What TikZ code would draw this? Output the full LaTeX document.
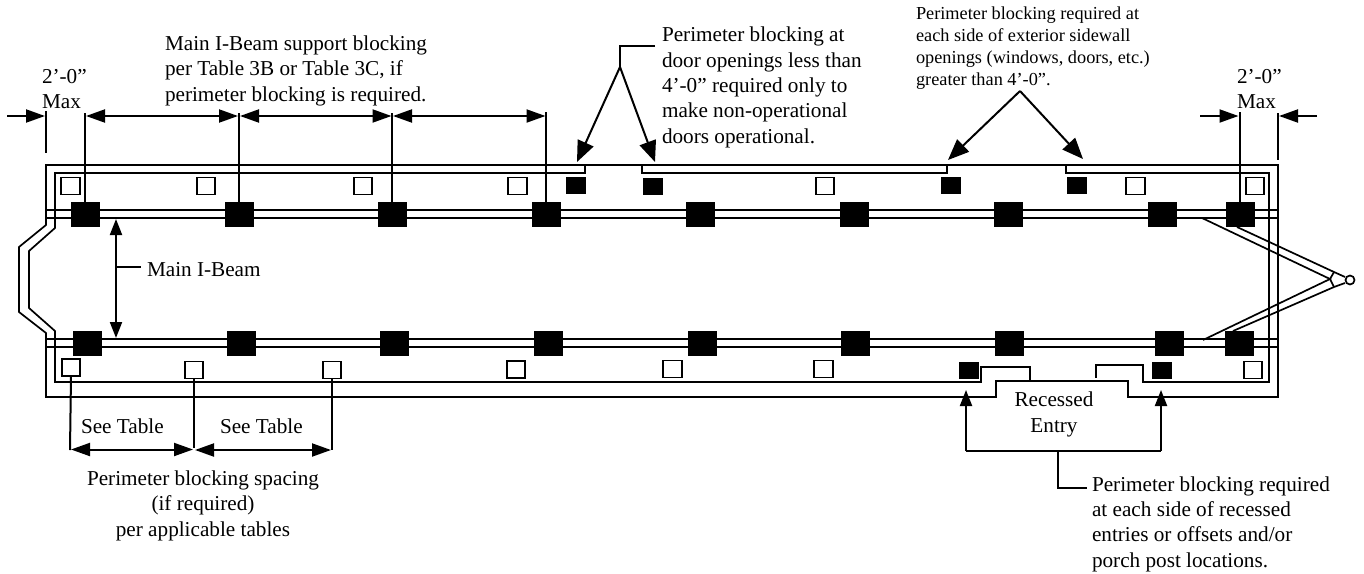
\documentclass[tikz,border=0pt]{standalone}
\usepackage{fontspec}
\setmainfont{Liberation Serif}
\usetikzlibrary{arrows.meta}
\tikzset{
  frameline/.style={line width=1.7pt,line join=miter},
  bigblk/.style={fill=black,inner sep=0pt,outer sep=0pt,minimum width=29pt,minimum height=25pt},
  smallblk/.style={fill=black,inner sep=0pt,outer sep=0pt,minimum width=20pt,minimum height=17pt},
  opn/.style={draw=black,fill=white,line width=1.7pt,inner sep=0pt,outer sep=0pt,minimum width=18.5pt,minimum height=17pt},
  leader/.style={line width=2pt},
  dimr/.style={line width=2pt,-{Triangle[length=19pt,width=13pt]}},
  dimb/.style={line width=2pt,{Triangle[length=19pt,width=13pt]}-{Triangle[length=19pt,width=13pt]}},
  vdim/.style={line width=2pt,-{Triangle[length=16pt,width=12pt]}},
  bigarr/.style={line width=2pt,-{Triangle[length=21pt,width=17pt]}},
  txt/.style={inner sep=0pt,outer sep=0pt,anchor=base west,align=left,font=\fontsize{21.2pt}{25.3pt}\selectfont},
  txtc/.style={inner sep=0pt,outer sep=0pt,anchor=base,align=center,font=\fontsize{21.2pt}{25.3pt}\selectfont},
  txts/.style={inner sep=0pt,outer sep=0pt,anchor=base west,align=left,font=\fontsize{18.3pt}{22pt}\selectfont},
}
\begin{document}
\begin{tikzpicture}[x=1pt,y=-1pt]
\useasboundingbox (0,0) rectangle (1364,573);
% outer wall
\draw[frameline] (46,225) -- (46,165) -- (1278,165) -- (1278,397) -- (1128,397) -- (1128,381) -- (996,381) -- (996,397) -- (46,397) -- (46,333) -- (19,312) -- (19,247) -- cycle;
% inner wall
\draw[frameline] (585,165) -- (585,173) -- (55,173) -- (55,228) -- (29,251) -- (29,308) -- (55,331) -- (55,382) -- (981,382) -- (981,367) -- (1030,367) -- (1030,381);
\draw[frameline] (642,165) -- (642,173) -- (947,173) -- (947,165);
\draw[frameline] (1066,165) -- (1066,173) -- (1269,173) -- (1269,382) -- (1143,382) -- (1143,365) -- (1096,365) -- (1096,378);
% beams
\draw[frameline] (46,210) -- (1278,210);
\draw[frameline] (46,218) -- (1278,218);
\draw[frameline] (46,339) -- (1278,339);
\draw[frameline] (46,347) -- (1278,347);
% tongue
\draw[frameline] (1202,218) -- (1330,279) -- (1203,340);
\draw[frameline] (1237,227) -- (1334,272) -- (1345,277);
\draw[frameline] (1233,331) -- (1334,287) -- (1345,283);
\draw[frameline] (1334,272) -- (1330,279) -- (1334,287);
\node[draw=black,line width=1.7pt,circle,inner sep=0pt,minimum size=9pt,fill=white] (ring) at (1350,280) {};
% big blocks
\foreach \n/\x in {t1/85,t2/239,t3/392,t4/546,t5/700,t6/854,t7/1008,t8/1162,t9/1240}
  \node[bigblk] (\n) at (\x,214.5) {};
\foreach \n/\x in {u1/87,u2/241,u3/394,u4/548,u5/702,u6/855,u7/1009,u8/1169,u9/1239}
  \node[bigblk] (\n) at (\x,343.5) {};
% small black blocks
\node[smallblk] (s1) at (575.5,185.5) {};
\node[smallblk] (s2) at (653,186) {};
\node[smallblk] (s3) at (950.5,185.5) {};
\node[smallblk] (s4) at (1077,185.5) {};
\node[smallblk] (s5) at (969,370) {};
\node[smallblk] (s6) at (1162,370) {};
% open blocks
\foreach \n/\x in {a1/70.5,a2/206,a3/363,a4/517.5,a5/825,a6/1135.5,a7/1255}
  \node[opn] (\n) at (\x,186) {};
\node[opn] (c1) at (71,367.5) {};
\node[opn] (c2) at (194,370) {};
\node[opn] (c3) at (332,370) {};
\node[opn] (c4) at (516,369.5) {};
\node[opn] (c5) at (672.5,369) {};
\node[opn] (c6) at (823.5,369) {};
\node[opn] (c7) at (1253,370) {};
% top dimension marks
\coordinate (d1) at (85,113);
\coordinate (d2) at (239,113);
\coordinate (d3) at (392,113);
\coordinate (d4) at (546,112);
\coordinate (e1) at (46,111);
\coordinate (e2) at (46,153);
\coordinate (e3) at (7,116);
\coordinate (e4) at (45,116);
\coordinate (f1) at (1240,112);
\coordinate (f2) at (1278,113);
\coordinate (f3) at (1278,160);
\coordinate (f4) at (1200,116);
\coordinate (f5) at (1238.5,116);
\coordinate (f6) at (1317,116);
\coordinate (f7) at (1279,116);
\draw[leader] (t1.north) -- (d1);
\draw[leader] (t2.north) -- (d2);
\draw[leader] (t3.north) -- (d3);
\draw[leader] (t4.north) -- (d4);
\draw[leader] (e1) -- (e2);
\draw[leader] (t9.north) -- (f1);
\draw[leader] (f2) -- (f3);
\draw[dimr] (e3) -- (e4);
\draw[dimr] (f4) -- (f5);
\draw[dimr] (f6) -- (f7);
\draw[dimb] (86,116) -- (238,116);
\draw[dimb] (240,116) -- (391.5,116);
\draw[dimb] (393,116) -- (545.5,116);
% door arrows
\coordinate (h1) at (655,46);
\coordinate (h2) at (620,46);
\coordinate (h3) at (620,67);
\coordinate (h4) at (577,162);
\coordinate (h5) at (655,162);
\draw[leader] (h1) -- (h2) -- (h3);
\draw[bigarr] (h3) -- (h4);
\draw[bigarr] (h3) -- (h5);
% window arrows
\coordinate (w0) at (1020,91);
\coordinate (w1) at (948,160);
\coordinate (w2) at (1083,159);
\draw[bigarr] (w0) -- (w1);
\draw[bigarr] (w0) -- (w2);
% main I-beam
\coordinate (m1) at (116,219);
\coordinate (m2) at (116,338);
\coordinate (m3) at (116,267);
\coordinate (m4) at (141,267);
\draw[vdim] (m3) -- (m1);
\draw[vdim] (m3) -- (m2);
\draw[leader] (m3) -- (m4);
% bottom dimensions
\coordinate (b1) at (70,450);
\coordinate (b2) at (194,448);
\coordinate (b3) at (332,450);
\draw[leader] (c1.south) -- (b1);
\draw[leader] (c2.south) -- (b2);
\draw[leader] (c3.south) -- (b3);
\draw[dimb] (71,449.5) -- (193,449.5);
\draw[dimb] (195,450) -- (331,450);
% recessed entry leaders
\coordinate (r1) at (966,390);
\coordinate (r2) at (966,451);
\coordinate (r3) at (1161,451);
\coordinate (r4) at (1161,390);
\coordinate (r5) at (1058,451);
\coordinate (r6) at (1058,488);
\coordinate (r7) at (1087,488);
\draw[vdim] (r2) -- (r1);
\draw[vdim] (r3) -- (r4);
\draw[leader] (r2) -- (r3);
\draw[leader] (r5) -- (r6) -- (r7);
% texts
\node[txt] (tmaxl) at (42,108.5) {2’-0”\\Max};
\node[txt] (tmaxr) at (1237,108.5) {2’-0”\\Max};
\node[txt] (tmain) at (165,101) {Main I-Beam support blocking\\per Table 3B or Table 3C, if\\perimeter blocking is required.};
\node[txt] (tdoor) at (662,143) {Perimeter blocking at\\door openings less than\\4’-0” required only to\\make non-operational\\doors operational.};
\node[txts] (twin) at (916,85) {Perimeter blocking required at\\each side of exterior sidewall\\openings (windows, doors, etc.)\\greater than 4’-0”.};
\node[txt] (tbeam) at (147,276) {Main I-Beam};
\node[txt] (tsee1) at (81,433) {See Table};
\node[txt] (tsee2) at (220,433) {See Table};
\node[txtc] (trec) at (1054,432) {Recessed\\Entry};
\node[txtc] (tspace) at (203,536) {Perimeter blocking spacing\\(if required)\\per applicable tables};
\node[txt] (tperim) at (1092,567) {Perimeter blocking required\\at each side of recessed\\entries or offsets and/or\\porch post locations.};
\end{tikzpicture}
\end{document}
